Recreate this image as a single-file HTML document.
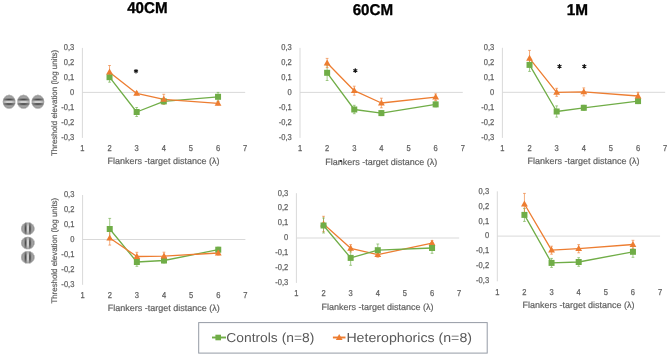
<!DOCTYPE html>
<html><head><meta charset="utf-8"><style>
html,body{margin:0;padding:0;background:#fff;}
body{width:669px;height:356px;overflow:hidden;}
svg{display:block;will-change:transform;}
text{font-family:"Liberation Sans",sans-serif;text-rendering:geometricPrecision;}
.tk{font-size:8.6px;fill:#595959;stroke:#6a6a6a;stroke-width:0.25px;}
.ti{font-size:9px;fill:#595959;stroke:#6a6a6a;stroke-width:0.2px;}
.yt{font-size:8.1px;fill:#595959;stroke:#6a6a6a;stroke-width:0.2px;}
.tt{font-size:15.6px;font-weight:bold;fill:#000;stroke:#000;stroke-width:0.35px;}
.lg{font-size:13px;fill:#595959;}
.star{font-size:11px;fill:#222;}
</style></head><body>
<svg width="669" height="356" viewBox="0 0 669 356">
<defs>
<linearGradient id="gh" x1="0" y1="0" x2="0" y2="1">
 <stop offset="0" stop-color="#8e8e8e"/>
 <stop offset="0.03" stop-color="#8e8e8e"/>
 <stop offset="0.05" stop-color="#919191"/>
 <stop offset="0.07" stop-color="#969696"/>
 <stop offset="0.1" stop-color="#9e9e9e"/>
 <stop offset="0.12" stop-color="#a6a6a6"/>
 <stop offset="0.15" stop-color="#adadad"/>
 <stop offset="0.17" stop-color="#afafaf"/>
 <stop offset="0.2" stop-color="#aaaaaa"/>
 <stop offset="0.23" stop-color="#9d9d9d"/>
 <stop offset="0.25" stop-color="#888888"/>
 <stop offset="0.28" stop-color="#707070"/>
 <stop offset="0.3" stop-color="#5a5a5a"/>
 <stop offset="0.33" stop-color="#4c4c4c"/>
 <stop offset="0.35" stop-color="#4d4d4d"/>
 <stop offset="0.38" stop-color="#5f5f5f"/>
 <stop offset="0.4" stop-color="#808080"/>
 <stop offset="0.42" stop-color="#a8a8a8"/>
 <stop offset="0.45" stop-color="#d0d0d0"/>
 <stop offset="0.47" stop-color="#d0d0d0"/>
 <stop offset="0.5" stop-color="#d0d0d0"/>
 <stop offset="0.53" stop-color="#d0d0d0"/>
 <stop offset="0.55" stop-color="#d0d0d0"/>
 <stop offset="0.57" stop-color="#a8a8a8"/>
 <stop offset="0.6" stop-color="#808080"/>
 <stop offset="0.62" stop-color="#5f5f5f"/>
 <stop offset="0.65" stop-color="#4d4d4d"/>
 <stop offset="0.68" stop-color="#4c4c4c"/>
 <stop offset="0.7" stop-color="#5a5a5a"/>
 <stop offset="0.72" stop-color="#707070"/>
 <stop offset="0.75" stop-color="#888888"/>
 <stop offset="0.78" stop-color="#9d9d9d"/>
 <stop offset="0.8" stop-color="#aaaaaa"/>
 <stop offset="0.82" stop-color="#afafaf"/>
 <stop offset="0.85" stop-color="#adadad"/>
 <stop offset="0.88" stop-color="#a6a6a6"/>
 <stop offset="0.9" stop-color="#9e9e9e"/>
 <stop offset="0.93" stop-color="#969696"/>
 <stop offset="0.95" stop-color="#919191"/>
 <stop offset="0.97" stop-color="#8e8e8e"/>
 <stop offset="1" stop-color="#8e8e8e"/>
</linearGradient>
<linearGradient id="gv" x1="0" y1="0" x2="1" y2="0">
 <stop offset="0" stop-color="#8e8e8e"/>
 <stop offset="0.03" stop-color="#8e8e8e"/>
 <stop offset="0.05" stop-color="#919191"/>
 <stop offset="0.07" stop-color="#969696"/>
 <stop offset="0.1" stop-color="#9e9e9e"/>
 <stop offset="0.12" stop-color="#a6a6a6"/>
 <stop offset="0.15" stop-color="#adadad"/>
 <stop offset="0.17" stop-color="#afafaf"/>
 <stop offset="0.2" stop-color="#aaaaaa"/>
 <stop offset="0.23" stop-color="#9d9d9d"/>
 <stop offset="0.25" stop-color="#888888"/>
 <stop offset="0.28" stop-color="#707070"/>
 <stop offset="0.3" stop-color="#5a5a5a"/>
 <stop offset="0.33" stop-color="#4c4c4c"/>
 <stop offset="0.35" stop-color="#4d4d4d"/>
 <stop offset="0.38" stop-color="#5f5f5f"/>
 <stop offset="0.4" stop-color="#808080"/>
 <stop offset="0.42" stop-color="#a8a8a8"/>
 <stop offset="0.45" stop-color="#d0d0d0"/>
 <stop offset="0.47" stop-color="#d0d0d0"/>
 <stop offset="0.5" stop-color="#d0d0d0"/>
 <stop offset="0.53" stop-color="#d0d0d0"/>
 <stop offset="0.55" stop-color="#d0d0d0"/>
 <stop offset="0.57" stop-color="#a8a8a8"/>
 <stop offset="0.6" stop-color="#808080"/>
 <stop offset="0.62" stop-color="#5f5f5f"/>
 <stop offset="0.65" stop-color="#4d4d4d"/>
 <stop offset="0.68" stop-color="#4c4c4c"/>
 <stop offset="0.7" stop-color="#5a5a5a"/>
 <stop offset="0.72" stop-color="#707070"/>
 <stop offset="0.75" stop-color="#888888"/>
 <stop offset="0.78" stop-color="#9d9d9d"/>
 <stop offset="0.8" stop-color="#aaaaaa"/>
 <stop offset="0.82" stop-color="#afafaf"/>
 <stop offset="0.85" stop-color="#adadad"/>
 <stop offset="0.88" stop-color="#a6a6a6"/>
 <stop offset="0.9" stop-color="#9e9e9e"/>
 <stop offset="0.93" stop-color="#969696"/>
 <stop offset="0.95" stop-color="#919191"/>
 <stop offset="0.97" stop-color="#8e8e8e"/>
 <stop offset="1" stop-color="#8e8e8e"/>
</linearGradient>
<filter id="bl" x="-20%" y="-20%" width="140%" height="140%"><feGaussianBlur stdDeviation="0.6"/></filter>
<radialGradient id="soft">
 <stop offset="0.88" stop-color="#fff" stop-opacity="0"/>
 <stop offset="1" stop-color="#fff" stop-opacity="0.7"/>
</radialGradient>
<radialGradient id="gr">
 <stop offset="0.35" stop-color="#979797" stop-opacity="0"/>
 <stop offset="0.75" stop-color="#979797" stop-opacity="0.55"/>
 <stop offset="1" stop-color="#8f8f8f" stop-opacity="0.85"/>
</radialGradient>
</defs>


<text x="127.2" y="12.8" class="tt" textLength="40.3" lengthAdjust="spacingAndGlyphs">40CM</text>
<text x="352.7" y="15" class="tt" textLength="40.4" lengthAdjust="spacingAndGlyphs">60CM</text>
<text x="566.7" y="15" class="tt" textLength="21.3" lengthAdjust="spacingAndGlyphs">1M</text>

<g>
<ellipse cx="9.1" cy="101.8" rx="6.4" ry="6.95" fill="url(#gh)"/>
<ellipse cx="9.1" cy="101.8" rx="6.4" ry="6.95" fill="url(#gr)"/>
<ellipse cx="9.1" cy="101.8" rx="6.4" ry="6.95" fill="url(#soft)"/>
<ellipse cx="23.5" cy="101.8" rx="6.4" ry="6.95" fill="url(#gh)"/>
<ellipse cx="23.5" cy="101.8" rx="6.4" ry="6.95" fill="url(#gr)"/>
<ellipse cx="23.5" cy="101.8" rx="6.4" ry="6.95" fill="url(#soft)"/>
<ellipse cx="37.9" cy="101.8" rx="6.4" ry="6.95" fill="url(#gh)"/>
<ellipse cx="37.9" cy="101.8" rx="6.4" ry="6.95" fill="url(#gr)"/>
<ellipse cx="37.9" cy="101.8" rx="6.4" ry="6.95" fill="url(#soft)"/>
<ellipse cx="27.8" cy="228.6" rx="6.8" ry="6.3" fill="url(#gv)"/>
<ellipse cx="27.8" cy="228.6" rx="6.8" ry="6.3" fill="url(#gr)"/>
<ellipse cx="27.8" cy="228.6" rx="6.8" ry="6.3" fill="url(#soft)"/>
<ellipse cx="27.8" cy="243" rx="6.8" ry="6.3" fill="url(#gv)"/>
<ellipse cx="27.8" cy="243" rx="6.8" ry="6.3" fill="url(#gr)"/>
<ellipse cx="27.8" cy="243" rx="6.8" ry="6.3" fill="url(#soft)"/>
<ellipse cx="27.8" cy="257.3" rx="6.8" ry="6.3" fill="url(#gv)"/>
<ellipse cx="27.8" cy="257.3" rx="6.8" ry="6.3" fill="url(#gr)"/>
<ellipse cx="27.8" cy="257.3" rx="6.8" ry="6.3" fill="url(#soft)"/>
</g>
<path d="M82.4 47.9V137.9" stroke="#D9D9D9" stroke-width="1" fill="none"/>
<path d="M82.4 92.4H245.18" stroke="#D9D9D9" stroke-width="1" fill="none"/>
<text transform="translate(74.2 50.3) scale(0.88 1)" text-anchor="end" class="tk">0,3</text>
<text transform="translate(74.2 65.2) scale(0.88 1)" text-anchor="end" class="tk">0,2</text>
<text transform="translate(74.2 80.1) scale(0.88 1)" text-anchor="end" class="tk">0,1</text>
<text transform="translate(74.2 95) scale(0.88 1)" text-anchor="end" class="tk">0</text>
<text transform="translate(74.2 109.9) scale(0.88 1)" text-anchor="end" class="tk">-0,1</text>
<text transform="translate(74.2 124.8) scale(0.88 1)" text-anchor="end" class="tk">-0,2</text>
<text transform="translate(74.2 139.7) scale(0.88 1)" text-anchor="end" class="tk">-0,3</text>
<text transform="translate(82.4 150.5) scale(0.88 1)" text-anchor="middle" class="tk">1</text>
<text transform="translate(109.53 150.5) scale(0.88 1)" text-anchor="middle" class="tk">2</text>
<text transform="translate(136.66 150.5) scale(0.88 1)" text-anchor="middle" class="tk">3</text>
<text transform="translate(163.79 150.5) scale(0.88 1)" text-anchor="middle" class="tk">4</text>
<text transform="translate(190.92 150.5) scale(0.88 1)" text-anchor="middle" class="tk">5</text>
<text transform="translate(218.05 150.5) scale(0.88 1)" text-anchor="middle" class="tk">6</text>
<text transform="translate(245.18 150.5) scale(0.88 1)" text-anchor="middle" class="tk">7</text>
<text x="107.6" y="163.8" class="ti" textLength="112" lengthAdjust="spacingAndGlyphs">Flankers -target distance (λ)</text>
<text transform="translate(57.3 156) rotate(-90)" class="yt" textLength="106.2" lengthAdjust="spacingAndGlyphs">Threshold elevation (log units)</text>
<path d="M109.53 72.2V82.2M108.13 72.2H110.93M108.13 82.2H110.93" stroke="#70AD47" stroke-width="0.9" fill="none" opacity="0.7"/>
<path d="M136.66 107.5V116.5M135.26 107.5H138.06M135.26 116.5H138.06" stroke="#70AD47" stroke-width="0.9" fill="none" opacity="0.7"/>
<path d="M163.79 98.9V103.9M162.39 98.9H165.19M162.39 103.9H165.19" stroke="#70AD47" stroke-width="0.9" fill="none" opacity="0.7"/>
<path d="M218.05 92.4V101.2M216.65 92.4H219.45M216.65 101.2H219.45" stroke="#70AD47" stroke-width="0.9" fill="none" opacity="0.7"/>
<path d="M109.53 65.5V78.9M108.13 65.5H110.93M108.13 78.9H110.93" stroke="#ED7D31" stroke-width="0.9" fill="none" opacity="0.7"/>
<path d="M136.66 91.9V94.9M135.26 91.9H138.06M135.26 94.9H138.06" stroke="#ED7D31" stroke-width="0.9" fill="none" opacity="0.7"/>
<path d="M163.79 94.3V104.3M162.39 94.3H165.19M162.39 104.3H165.19" stroke="#ED7D31" stroke-width="0.9" fill="none" opacity="0.7"/>
<path d="M218.05 101.9V104.9M216.65 101.9H219.45M216.65 104.9H219.45" stroke="#ED7D31" stroke-width="0.9" fill="none" opacity="0.7"/>
<polyline points="109.53,77.2 136.66,112 163.79,101.4 218.05,96.8" fill="none" stroke="#70AD47" stroke-width="1.3" stroke-linejoin="round"/>
<polyline points="109.53,72.2 136.66,93.4 163.79,99.3 218.05,103.4" fill="none" stroke="#ED7D31" stroke-width="1.3" stroke-linejoin="round"/>
<rect x="106.53" y="74.2" width="6" height="6" fill="#70AD47"/>
<rect x="133.66" y="109" width="6" height="6" fill="#70AD47"/>
<rect x="160.79" y="98.4" width="6" height="6" fill="#70AD47"/>
<rect x="215.05" y="93.8" width="6" height="6" fill="#70AD47"/>
<path d="M109.53 68.6L112.93 74.6L106.13 74.6Z" fill="#ED7D31"/>
<path d="M136.66 89.8L140.06 95.8L133.26 95.8Z" fill="#ED7D31"/>
<path d="M163.79 95.7L167.19 101.7L160.39 101.7Z" fill="#ED7D31"/>
<path d="M218.05 99.8L221.45 105.8L214.65 105.8Z" fill="#ED7D31"/>
<path d="M136 68.9V73.5M134.01 70.05L137.99 72.35M134.01 72.35L137.99 70.05" stroke="#1a1a1a" stroke-width="1.1" fill="none"/><circle cx="136" cy="71.2" r="0.9" fill="#111"/>
<path d="M300 47.9V137.9" stroke="#D9D9D9" stroke-width="1" fill="none"/>
<path d="M300 92.4H462.78" stroke="#D9D9D9" stroke-width="1" fill="none"/>
<text transform="translate(291.8 50.3) scale(0.88 1)" text-anchor="end" class="tk">0,3</text>
<text transform="translate(291.8 65.2) scale(0.88 1)" text-anchor="end" class="tk">0,2</text>
<text transform="translate(291.8 80.1) scale(0.88 1)" text-anchor="end" class="tk">0,1</text>
<text transform="translate(291.8 95) scale(0.88 1)" text-anchor="end" class="tk">0</text>
<text transform="translate(291.8 109.9) scale(0.88 1)" text-anchor="end" class="tk">-0,1</text>
<text transform="translate(291.8 124.8) scale(0.88 1)" text-anchor="end" class="tk">-0,2</text>
<text transform="translate(291.8 139.7) scale(0.88 1)" text-anchor="end" class="tk">-0,3</text>
<text transform="translate(300 150.9) scale(0.88 1)" text-anchor="middle" class="tk">1</text>
<text transform="translate(327.13 150.9) scale(0.88 1)" text-anchor="middle" class="tk">2</text>
<text transform="translate(354.26 150.9) scale(0.88 1)" text-anchor="middle" class="tk">3</text>
<text transform="translate(381.39 150.9) scale(0.88 1)" text-anchor="middle" class="tk">4</text>
<text transform="translate(408.52 150.9) scale(0.88 1)" text-anchor="middle" class="tk">5</text>
<text transform="translate(435.65 150.9) scale(0.88 1)" text-anchor="middle" class="tk">6</text>
<text transform="translate(462.78 150.9) scale(0.88 1)" text-anchor="middle" class="tk">7</text>
<text x="325.2" y="164.5" class="ti" textLength="112" lengthAdjust="spacingAndGlyphs">Flankers -target distance (λ)</text>
<path d="M327.13 65.1V80.5M325.73 65.1H328.53M325.73 80.5H328.53" stroke="#70AD47" stroke-width="0.9" fill="none" opacity="0.7"/>
<path d="M354.26 105.3V113.7M352.86 105.3H355.66M352.86 113.7H355.66" stroke="#70AD47" stroke-width="0.9" fill="none" opacity="0.7"/>
<path d="M381.39 110.6V115.6M379.99 110.6H382.79M379.99 115.6H382.79" stroke="#70AD47" stroke-width="0.9" fill="none" opacity="0.7"/>
<path d="M435.65 101.9V106.9M434.25 101.9H437.05M434.25 106.9H437.05" stroke="#70AD47" stroke-width="0.9" fill="none" opacity="0.7"/>
<path d="M327.13 58.4V67.6M325.73 58.4H328.53M325.73 67.6H328.53" stroke="#ED7D31" stroke-width="0.9" fill="none" opacity="0.7"/>
<path d="M354.26 86.2V95.2M352.86 86.2H355.66M352.86 95.2H355.66" stroke="#ED7D31" stroke-width="0.9" fill="none" opacity="0.7"/>
<path d="M381.39 98.2V107.8M379.99 98.2H382.79M379.99 107.8H382.79" stroke="#ED7D31" stroke-width="0.9" fill="none" opacity="0.7"/>
<path d="M435.65 93.9V100.5M434.25 93.9H437.05M434.25 100.5H437.05" stroke="#ED7D31" stroke-width="0.9" fill="none" opacity="0.7"/>
<polyline points="327.13,72.8 354.26,109.5 381.39,113.1 435.65,104.4" fill="none" stroke="#70AD47" stroke-width="1.3" stroke-linejoin="round"/>
<polyline points="327.13,63 354.26,90.7 381.39,103 435.65,97.2" fill="none" stroke="#ED7D31" stroke-width="1.3" stroke-linejoin="round"/>
<rect x="324.13" y="69.8" width="6" height="6" fill="#70AD47"/>
<rect x="351.26" y="106.5" width="6" height="6" fill="#70AD47"/>
<rect x="378.39" y="110.1" width="6" height="6" fill="#70AD47"/>
<rect x="432.65" y="101.4" width="6" height="6" fill="#70AD47"/>
<path d="M327.13 59.4L330.53 65.4L323.73 65.4Z" fill="#ED7D31"/>
<path d="M354.26 87.1L357.66 93.1L350.86 93.1Z" fill="#ED7D31"/>
<path d="M381.39 99.4L384.79 105.4L377.99 105.4Z" fill="#ED7D31"/>
<path d="M435.65 93.6L439.05 99.6L432.25 99.6Z" fill="#ED7D31"/>
<path d="M355.3 68.3V72.9M353.31 69.45L357.29 71.75M353.31 71.75L357.29 69.45" stroke="#1a1a1a" stroke-width="1.1" fill="none"/><circle cx="355.3" cy="70.6" r="0.9" fill="#111"/>
<path d="M502.4 47.8V137.9" stroke="#D9D9D9" stroke-width="1" fill="none"/>
<path d="M502.4 92.3H665.18" stroke="#D9D9D9" stroke-width="1" fill="none"/>
<text transform="translate(494.2 50.2) scale(0.88 1)" text-anchor="end" class="tk">0,3</text>
<text transform="translate(494.2 65.12) scale(0.88 1)" text-anchor="end" class="tk">0,2</text>
<text transform="translate(494.2 80.03) scale(0.88 1)" text-anchor="end" class="tk">0,1</text>
<text transform="translate(494.2 94.95) scale(0.88 1)" text-anchor="end" class="tk">0</text>
<text transform="translate(494.2 109.87) scale(0.88 1)" text-anchor="end" class="tk">-0,1</text>
<text transform="translate(494.2 124.78) scale(0.88 1)" text-anchor="end" class="tk">-0,2</text>
<text transform="translate(494.2 139.7) scale(0.88 1)" text-anchor="end" class="tk">-0,3</text>
<text transform="translate(502.4 150.5) scale(0.88 1)" text-anchor="middle" class="tk">1</text>
<text transform="translate(529.53 150.5) scale(0.88 1)" text-anchor="middle" class="tk">2</text>
<text transform="translate(556.66 150.5) scale(0.88 1)" text-anchor="middle" class="tk">3</text>
<text transform="translate(583.79 150.5) scale(0.88 1)" text-anchor="middle" class="tk">4</text>
<text transform="translate(610.92 150.5) scale(0.88 1)" text-anchor="middle" class="tk">5</text>
<text transform="translate(638.05 150.5) scale(0.88 1)" text-anchor="middle" class="tk">6</text>
<text transform="translate(665.18 150.5) scale(0.88 1)" text-anchor="middle" class="tk">7</text>
<text x="527.6" y="163.7" class="ti" textLength="112" lengthAdjust="spacingAndGlyphs">Flankers -target distance (λ)</text>
<path d="M529.53 58.4V71.4M528.13 58.4H530.93M528.13 71.4H530.93" stroke="#70AD47" stroke-width="0.9" fill="none" opacity="0.7"/>
<path d="M556.66 105.9V117.1M555.26 105.9H558.06M555.26 117.1H558.06" stroke="#70AD47" stroke-width="0.9" fill="none" opacity="0.7"/>
<path d="M583.79 105.3V110.3M582.39 105.3H585.19M582.39 110.3H585.19" stroke="#70AD47" stroke-width="0.9" fill="none" opacity="0.7"/>
<path d="M638.05 98.6V103.6M636.65 98.6H639.45M636.65 103.6H639.45" stroke="#70AD47" stroke-width="0.9" fill="none" opacity="0.7"/>
<path d="M529.53 50.4V66.4M528.13 50.4H530.93M528.13 66.4H530.93" stroke="#ED7D31" stroke-width="0.9" fill="none" opacity="0.7"/>
<path d="M556.66 88.3V96.3M555.26 88.3H558.06M555.26 96.3H558.06" stroke="#ED7D31" stroke-width="0.9" fill="none" opacity="0.7"/>
<path d="M583.79 87.9V95.9M582.39 87.9H585.19M582.39 95.9H585.19" stroke="#ED7D31" stroke-width="0.9" fill="none" opacity="0.7"/>
<path d="M638.05 92.3V99.7M636.65 92.3H639.45M636.65 99.7H639.45" stroke="#ED7D31" stroke-width="0.9" fill="none" opacity="0.7"/>
<polyline points="529.53,64.9 556.66,111.5 583.79,107.8 638.05,101.1" fill="none" stroke="#70AD47" stroke-width="1.3" stroke-linejoin="round"/>
<polyline points="529.53,58.4 556.66,92.3 583.79,91.9 638.05,96" fill="none" stroke="#ED7D31" stroke-width="1.3" stroke-linejoin="round"/>
<rect x="526.53" y="61.9" width="6" height="6" fill="#70AD47"/>
<rect x="553.66" y="108.5" width="6" height="6" fill="#70AD47"/>
<rect x="580.79" y="104.8" width="6" height="6" fill="#70AD47"/>
<rect x="635.05" y="98.1" width="6" height="6" fill="#70AD47"/>
<path d="M529.53 54.8L532.93 60.8L526.13 60.8Z" fill="#ED7D31"/>
<path d="M556.66 88.7L560.06 94.7L553.26 94.7Z" fill="#ED7D31"/>
<path d="M583.79 88.3L587.19 94.3L580.39 94.3Z" fill="#ED7D31"/>
<path d="M638.05 92.4L641.45 98.4L634.65 98.4Z" fill="#ED7D31"/>
<path d="M559.5 64.1V68.7M557.51 65.25L561.49 67.55M557.51 67.55L561.49 65.25" stroke="#1a1a1a" stroke-width="1.1" fill="none"/><circle cx="559.5" cy="66.4" r="0.9" fill="#111"/>
<path d="M584.3 64.1V68.7M582.31 65.25L586.29 67.55M582.31 67.55L586.29 65.25" stroke="#1a1a1a" stroke-width="1.1" fill="none"/><circle cx="584.3" cy="66.4" r="0.9" fill="#111"/>
<path d="M82.6 195V284.8" stroke="#D9D9D9" stroke-width="1" fill="none"/>
<path d="M82.6 239.5H245.38" stroke="#D9D9D9" stroke-width="1" fill="none"/>
<text transform="translate(74.4 197.4) scale(0.88 1)" text-anchor="end" class="tk">0,3</text>
<text transform="translate(74.4 212.27) scale(0.88 1)" text-anchor="end" class="tk">0,2</text>
<text transform="translate(74.4 227.13) scale(0.88 1)" text-anchor="end" class="tk">0,1</text>
<text transform="translate(74.4 242) scale(0.88 1)" text-anchor="end" class="tk">0</text>
<text transform="translate(74.4 256.87) scale(0.88 1)" text-anchor="end" class="tk">-0,1</text>
<text transform="translate(74.4 271.73) scale(0.88 1)" text-anchor="end" class="tk">-0,2</text>
<text transform="translate(74.4 286.6) scale(0.88 1)" text-anchor="end" class="tk">-0,3</text>
<text transform="translate(82.6 297.9) scale(0.88 1)" text-anchor="middle" class="tk">1</text>
<text transform="translate(109.73 297.9) scale(0.88 1)" text-anchor="middle" class="tk">2</text>
<text transform="translate(136.86 297.9) scale(0.88 1)" text-anchor="middle" class="tk">3</text>
<text transform="translate(163.99 297.9) scale(0.88 1)" text-anchor="middle" class="tk">4</text>
<text transform="translate(191.12 297.9) scale(0.88 1)" text-anchor="middle" class="tk">5</text>
<text transform="translate(218.25 297.9) scale(0.88 1)" text-anchor="middle" class="tk">6</text>
<text transform="translate(245.38 297.9) scale(0.88 1)" text-anchor="middle" class="tk">7</text>
<text x="107.8" y="311.2" class="ti" textLength="112" lengthAdjust="spacingAndGlyphs">Flankers -target distance (λ)</text>
<text transform="translate(57.3 303.6) rotate(-90)" class="yt" textLength="105.8" lengthAdjust="spacingAndGlyphs">Threshold elevation (log units)</text>
<path d="M109.73 218.4V239.6M108.33 218.4H111.13M108.33 239.6H111.13" stroke="#70AD47" stroke-width="0.9" fill="none" opacity="0.7"/>
<path d="M136.86 257.7V266.3M135.46 257.7H138.26M135.46 266.3H138.26" stroke="#70AD47" stroke-width="0.9" fill="none" opacity="0.7"/>
<path d="M163.99 258V263M162.59 258H165.39M162.59 263H165.39" stroke="#70AD47" stroke-width="0.9" fill="none" opacity="0.7"/>
<path d="M218.25 247.2V252.2M216.85 247.2H219.65M216.85 252.2H219.65" stroke="#70AD47" stroke-width="0.9" fill="none" opacity="0.7"/>
<path d="M109.73 230.9V245.1M108.33 230.9H111.13M108.33 245.1H111.13" stroke="#ED7D31" stroke-width="0.9" fill="none" opacity="0.7"/>
<path d="M136.86 252.3V260.7M135.46 252.3H138.26M135.46 260.7H138.26" stroke="#ED7D31" stroke-width="0.9" fill="none" opacity="0.7"/>
<path d="M163.99 252.2V260.2M162.59 252.2H165.39M162.59 260.2H165.39" stroke="#ED7D31" stroke-width="0.9" fill="none" opacity="0.7"/>
<path d="M218.25 251V255M216.85 251H219.65M216.85 255H219.65" stroke="#ED7D31" stroke-width="0.9" fill="none" opacity="0.7"/>
<polyline points="109.73,229 136.86,262 163.99,260.5 218.25,249.7" fill="none" stroke="#70AD47" stroke-width="1.3" stroke-linejoin="round"/>
<polyline points="109.73,238 136.86,256.5 163.99,256.2 218.25,253" fill="none" stroke="#ED7D31" stroke-width="1.3" stroke-linejoin="round"/>
<rect x="106.73" y="226" width="6" height="6" fill="#70AD47"/>
<rect x="133.86" y="259" width="6" height="6" fill="#70AD47"/>
<rect x="160.99" y="257.5" width="6" height="6" fill="#70AD47"/>
<rect x="215.25" y="246.7" width="6" height="6" fill="#70AD47"/>
<path d="M109.73 234.4L113.13 240.4L106.33 240.4Z" fill="#ED7D31"/>
<path d="M136.86 252.9L140.26 258.9L133.46 258.9Z" fill="#ED7D31"/>
<path d="M163.99 252.6L167.39 258.6L160.59 258.6Z" fill="#ED7D31"/>
<path d="M218.25 249.4L221.65 255.4L214.85 255.4Z" fill="#ED7D31"/>
<path d="M296.4 193.2V282.9" stroke="#D9D9D9" stroke-width="1" fill="none"/>
<path d="M296.4 238H459.18" stroke="#D9D9D9" stroke-width="1" fill="none"/>
<text transform="translate(288.2 195.6) scale(0.88 1)" text-anchor="end" class="tk">0,3</text>
<text transform="translate(288.2 210.45) scale(0.88 1)" text-anchor="end" class="tk">0,2</text>
<text transform="translate(288.2 225.3) scale(0.88 1)" text-anchor="end" class="tk">0,1</text>
<text transform="translate(288.2 240.15) scale(0.88 1)" text-anchor="end" class="tk">0</text>
<text transform="translate(288.2 255) scale(0.88 1)" text-anchor="end" class="tk">-0,1</text>
<text transform="translate(288.2 269.85) scale(0.88 1)" text-anchor="end" class="tk">-0,2</text>
<text transform="translate(288.2 284.7) scale(0.88 1)" text-anchor="end" class="tk">-0,3</text>
<text transform="translate(296.4 295.7) scale(0.88 1)" text-anchor="middle" class="tk">1</text>
<text transform="translate(323.53 295.7) scale(0.88 1)" text-anchor="middle" class="tk">2</text>
<text transform="translate(350.66 295.7) scale(0.88 1)" text-anchor="middle" class="tk">3</text>
<text transform="translate(377.79 295.7) scale(0.88 1)" text-anchor="middle" class="tk">4</text>
<text transform="translate(404.92 295.7) scale(0.88 1)" text-anchor="middle" class="tk">5</text>
<text transform="translate(432.05 295.7) scale(0.88 1)" text-anchor="middle" class="tk">6</text>
<text transform="translate(459.18 295.7) scale(0.88 1)" text-anchor="middle" class="tk">7</text>
<text x="321.6" y="309.9" class="ti" textLength="112" lengthAdjust="spacingAndGlyphs">Flankers -target distance (λ)</text>
<path d="M323.53 216.3V231.7M322.13 216.3H324.93M322.13 231.7H324.93" stroke="#ED7D31" stroke-width="0.9" fill="none" opacity="0.7"/>
<path d="M350.66 244.6V252M349.26 244.6H352.06M349.26 252H352.06" stroke="#ED7D31" stroke-width="0.9" fill="none" opacity="0.7"/>
<path d="M377.79 252.2V257.2M376.39 252.2H379.19M376.39 257.2H379.19" stroke="#ED7D31" stroke-width="0.9" fill="none" opacity="0.7"/>
<path d="M432.05 240.6V245.6M430.65 240.6H433.45M430.65 245.6H433.45" stroke="#ED7D31" stroke-width="0.9" fill="none" opacity="0.7"/>
<path d="M323.53 218V233M322.13 218H324.93M322.13 233H324.93" stroke="#70AD47" stroke-width="0.9" fill="none" opacity="0.7"/>
<path d="M350.66 250.5V265.3M349.26 250.5H352.06M349.26 265.3H352.06" stroke="#70AD47" stroke-width="0.9" fill="none" opacity="0.7"/>
<path d="M377.79 244V256.4M376.39 244H379.19M376.39 256.4H379.19" stroke="#70AD47" stroke-width="0.9" fill="none" opacity="0.7"/>
<path d="M432.05 242.7V253.3M430.65 242.7H433.45M430.65 253.3H433.45" stroke="#70AD47" stroke-width="0.9" fill="none" opacity="0.7"/>
<polyline points="323.53,224 350.66,248.3 377.79,254.7 432.05,243.1" fill="none" stroke="#ED7D31" stroke-width="1.3" stroke-linejoin="round"/>
<polyline points="323.53,225.5 350.66,257.9 377.79,250.2 432.05,248" fill="none" stroke="#70AD47" stroke-width="1.3" stroke-linejoin="round"/>
<path d="M323.53 220.4L326.93 226.4L320.13 226.4Z" fill="#ED7D31"/>
<path d="M350.66 244.7L354.06 250.7L347.26 250.7Z" fill="#ED7D31"/>
<path d="M377.79 251.1L381.19 257.1L374.39 257.1Z" fill="#ED7D31"/>
<path d="M432.05 239.5L435.45 245.5L428.65 245.5Z" fill="#ED7D31"/>
<rect x="320.53" y="222.5" width="6" height="6" fill="#70AD47"/>
<rect x="347.66" y="254.9" width="6" height="6" fill="#70AD47"/>
<rect x="374.79" y="247.2" width="6" height="6" fill="#70AD47"/>
<rect x="429.05" y="245" width="6" height="6" fill="#70AD47"/>
<path d="M497.3 191.3V281.3" stroke="#D9D9D9" stroke-width="1" fill="none"/>
<path d="M497.3 236.1H660.08" stroke="#D9D9D9" stroke-width="1" fill="none"/>
<text transform="translate(489.1 193.7) scale(0.88 1)" text-anchor="end" class="tk">0,3</text>
<text transform="translate(489.1 208.6) scale(0.88 1)" text-anchor="end" class="tk">0,2</text>
<text transform="translate(489.1 223.5) scale(0.88 1)" text-anchor="end" class="tk">0,1</text>
<text transform="translate(489.1 238.4) scale(0.88 1)" text-anchor="end" class="tk">0</text>
<text transform="translate(489.1 253.3) scale(0.88 1)" text-anchor="end" class="tk">-0,1</text>
<text transform="translate(489.1 268.2) scale(0.88 1)" text-anchor="end" class="tk">-0,2</text>
<text transform="translate(489.1 283.1) scale(0.88 1)" text-anchor="end" class="tk">-0,3</text>
<text transform="translate(497.3 294.6) scale(0.88 1)" text-anchor="middle" class="tk">1</text>
<text transform="translate(524.43 294.6) scale(0.88 1)" text-anchor="middle" class="tk">2</text>
<text transform="translate(551.56 294.6) scale(0.88 1)" text-anchor="middle" class="tk">3</text>
<text transform="translate(578.69 294.6) scale(0.88 1)" text-anchor="middle" class="tk">4</text>
<text transform="translate(605.82 294.6) scale(0.88 1)" text-anchor="middle" class="tk">5</text>
<text transform="translate(632.95 294.6) scale(0.88 1)" text-anchor="middle" class="tk">6</text>
<text transform="translate(660.08 294.6) scale(0.88 1)" text-anchor="middle" class="tk">7</text>
<text x="522.5" y="307.8" class="ti" textLength="112" lengthAdjust="spacingAndGlyphs">Flankers -target distance (λ)</text>
<path d="M524.43 208.4V221.4M523.03 208.4H525.83M523.03 221.4H525.83" stroke="#70AD47" stroke-width="0.9" fill="none" opacity="0.7"/>
<path d="M551.56 258.4V267.4M550.16 258.4H552.96M550.16 267.4H552.96" stroke="#70AD47" stroke-width="0.9" fill="none" opacity="0.7"/>
<path d="M578.69 257.7V266.3M577.29 257.7H580.09M577.29 266.3H580.09" stroke="#70AD47" stroke-width="0.9" fill="none" opacity="0.7"/>
<path d="M632.95 246.3V257.3M631.55 246.3H634.35M631.55 257.3H634.35" stroke="#70AD47" stroke-width="0.9" fill="none" opacity="0.7"/>
<path d="M524.43 193.4V214.6M523.03 193.4H525.83M523.03 214.6H525.83" stroke="#ED7D31" stroke-width="0.9" fill="none" opacity="0.7"/>
<path d="M551.56 246.2V254.2M550.16 246.2H552.96M550.16 254.2H552.96" stroke="#ED7D31" stroke-width="0.9" fill="none" opacity="0.7"/>
<path d="M578.69 244.6V252.8M577.29 244.6H580.09M577.29 252.8H580.09" stroke="#ED7D31" stroke-width="0.9" fill="none" opacity="0.7"/>
<path d="M632.95 240.3V248.7M631.55 240.3H634.35M631.55 248.7H634.35" stroke="#ED7D31" stroke-width="0.9" fill="none" opacity="0.7"/>
<polyline points="524.43,214.9 551.56,262.9 578.69,262 632.95,251.8" fill="none" stroke="#70AD47" stroke-width="1.3" stroke-linejoin="round"/>
<polyline points="524.43,204 551.56,250.2 578.69,248.7 632.95,244.5" fill="none" stroke="#ED7D31" stroke-width="1.3" stroke-linejoin="round"/>
<rect x="521.43" y="211.9" width="6" height="6" fill="#70AD47"/>
<rect x="548.56" y="259.9" width="6" height="6" fill="#70AD47"/>
<rect x="575.69" y="259" width="6" height="6" fill="#70AD47"/>
<rect x="629.95" y="248.8" width="6" height="6" fill="#70AD47"/>
<path d="M524.43 200.4L527.83 206.4L521.03 206.4Z" fill="#ED7D31"/>
<path d="M551.56 246.6L554.96 252.6L548.16 252.6Z" fill="#ED7D31"/>
<path d="M578.69 245.1L582.09 251.1L575.29 251.1Z" fill="#ED7D31"/>
<path d="M632.95 240.9L636.35 246.9L629.55 246.9Z" fill="#ED7D31"/>
<circle cx="340.9" cy="160.9" r="1.0" fill="#222"/>
<rect x="198.7" y="322.6" width="288.5" height="30.5" fill="none" stroke="#959ba5" stroke-width="1"/>
<path d="M212 337.5H226" stroke="#70AD47" stroke-width="1.9"/>
<rect x="215.4" y="334.7" width="5.6" height="5.6" fill="#70AD47"/>
<text x="226.3" y="342" class="lg" textLength="88" lengthAdjust="spacingAndGlyphs">Controls (n=8)</text>
<path d="M332.9 337.5H345.5" stroke="#ED7D31" stroke-width="1.9"/>
<path d="M339.2 334L342.6 340L335.8 340Z" fill="#ED7D31"/>
<text x="346.4" y="342" class="lg" textLength="125.6" lengthAdjust="spacingAndGlyphs">Heterophorics (n=8)</text>

</svg>
</body></html>
